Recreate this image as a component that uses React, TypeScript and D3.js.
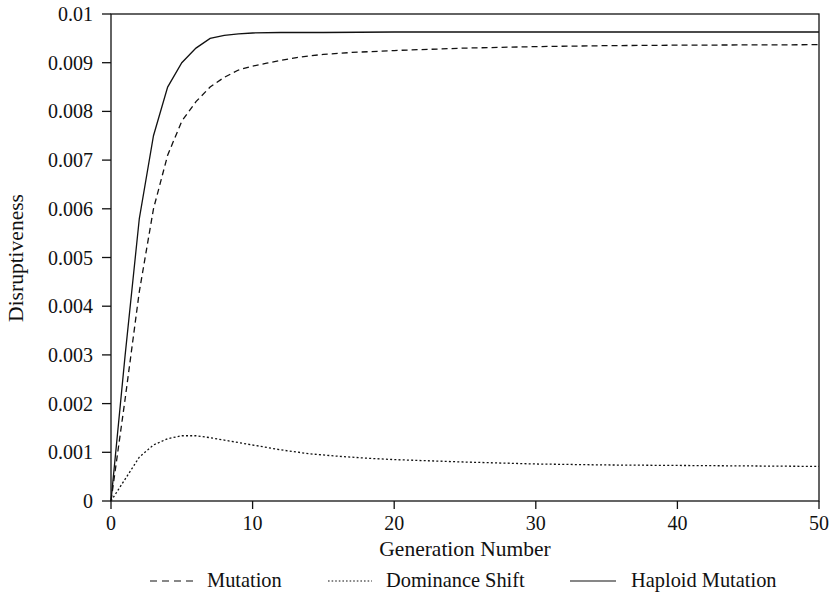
import React from "react";
import * as d3 from "d3";

const mutGen = [0, 1, 2, 3, 4, 5, 6, 7, 8, 9, 10, 11, 12, 13, 14, 15, 17, 20, 25, 30, 35, 40, 50];
const mutVal = [0, 0.0021, 0.0043, 0.006, 0.0071, 0.0078, 0.0082, 0.0085, 0.0087, 0.00885, 0.00893, 0.00899, 0.00905, 0.0091, 0.00914, 0.00917, 0.00921, 0.00925, 0.0093, 0.00933, 0.00935, 0.00936, 0.00937];

const domGen = [0, 1, 2, 3, 4, 5, 6, 7, 8, 9, 10, 12, 14, 16, 18, 20, 25, 30, 35, 40, 45, 50];
const domVal = [0, 0.00045, 0.0009, 0.00115, 0.00128, 0.00134, 0.00134, 0.0013, 0.00125, 0.0012, 0.00115, 0.00105, 0.00097, 0.00092, 0.00088, 0.00085, 0.0008, 0.00076, 0.00074, 0.00073, 0.00072, 0.00071];

const hapGen = [0, 1, 2, 3, 4, 5, 6, 7, 8, 9, 10, 12, 15, 20, 30, 50];
const hapVal = [0, 0.003, 0.0058, 0.0075, 0.0085, 0.009, 0.0093, 0.0095, 0.00956, 0.00959, 0.00961, 0.00962, 0.00962, 0.00963, 0.00963, 0.00963];

const xTicks = [0, 10, 20, 30, 40, 50];
const yTicks = [0, 0.001, 0.002, 0.003, 0.004, 0.005, 0.006, 0.007, 0.008, 0.009, 0.01];
const yTickLabels = ["0", "0.001", "0.002", "0.003", "0.004", "0.005", "0.006", "0.007", "0.008", "0.009", "0.01"];

const legendItems = ["Mutation", "Dominance Shift", "Haploid Mutation"];
const dashes = ["6,4", "2,2.2", ""];

const FONT = "Liberation Serif, Times New Roman, Times, serif";

export default function App() {
  const W = 831, H = 605;
  const x = d3.scaleLinear().domain([0, 50]).range([111, 819]);
  const y = d3.scaleLinear().domain([0, 0.01]).range([501, 14]);
  const line = d3.line<[number, number]>().x(d => x(d[0])).y(d => y(d[1]));
  const series = [
    mutGen.map((g, i) => [g, mutVal[i]] as [number, number]),
    domGen.map((g, i) => [g, domVal[i]] as [number, number]),
    hapGen.map((g, i) => [g, hapVal[i]] as [number, number]),
  ];
  const legendLine = [[150, 196], [328, 372], [570, 616]];
  const legendText = [207, 386, 631];
  const ts = { fontFamily: FONT, fontSize: 20, fill: "#111" } as React.CSSProperties;
  const tt = { fontFamily: FONT, fontSize: 21.5, fill: "#111" } as React.CSSProperties;
  return (
    <svg width={W} height={H} style={{ position: "absolute", left: 0, top: 0, background: "#fff" }}>
      <rect x={0} y={0} width={W} height={H} fill="#fff" />
      {series.map((s, i) => (
        <path key={i} d={line(s) || ""} fill="none" stroke="#111" strokeWidth={1.3} strokeDasharray={dashes[i] || undefined} />
      ))}
      <rect x={x(0)} y={y(0.01)} width={x(50) - x(0)} height={y(0) - y(0.01)} fill="none" stroke="#111" strokeWidth={1.3} />
      {yTicks.map((t, i) => (
        <g key={i}>
          <line x1={x(0) - 9} x2={x(0)} y1={y(t)} y2={y(t)} stroke="#111" strokeWidth={1.3} />
          <text x={93} y={y(t) + 7} textAnchor="end" style={ts}>{yTickLabels[i]}</text>
        </g>
      ))}
      {xTicks.map((t, i) => (
        <g key={i}>
          <line x1={x(t)} x2={x(t)} y1={y(0)} y2={y(0) + 8} stroke="#111" strokeWidth={1.3} />
          <text x={x(t)} y={530} textAnchor="middle" style={ts}>{t}</text>
        </g>
      ))}
      <text x={465} y={556} textAnchor="middle" style={tt}>Generation Number</text>
      <text transform="translate(23,258) rotate(-90)" textAnchor="middle" style={tt}>Disruptiveness</text>
      {legendItems.map((name, i) => (
        <g key={i}>
          <line x1={legendLine[i][0]} x2={legendLine[i][1]} y1={581} y2={581} stroke="#111" strokeWidth={1.1} strokeDasharray={i === 0 ? "7,5" : i === 1 ? "1.6,2" : undefined} />
          <text x={legendText[i]} y={587} style={{ ...ts, fontSize: 20.4 }}>{name}</text>
        </g>
      ))}
    </svg>
  );
}
